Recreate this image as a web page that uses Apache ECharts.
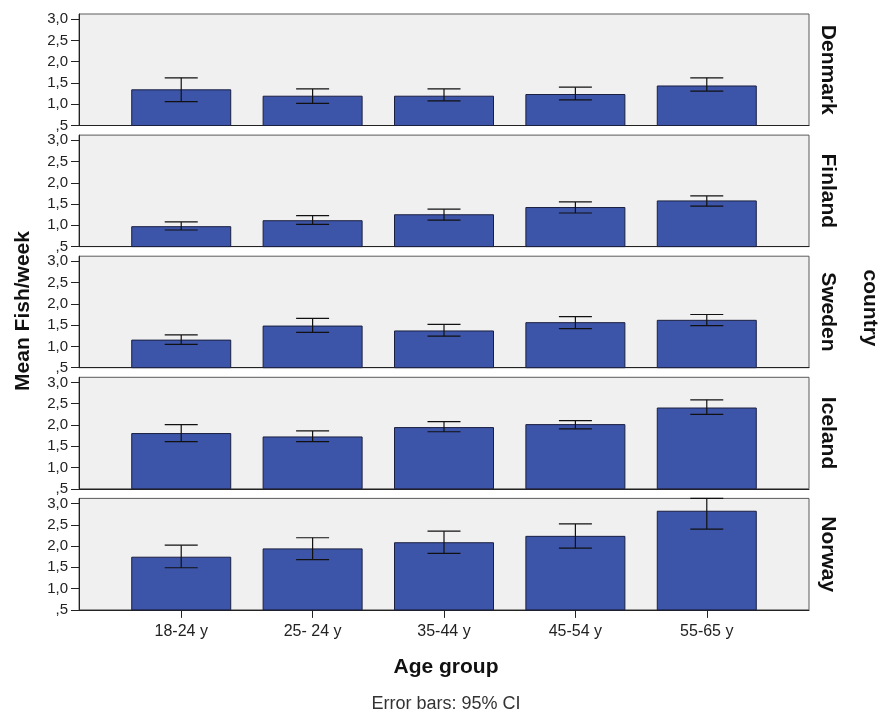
<!DOCTYPE html>
<html>
<head>
<meta charset="utf-8">
<script src="https://cdn.jsdelivr.net/npm/echarts@6/dist/echarts.min.js"></script>
<style>
  html, body { margin: 0; padding: 0; background: #ffffff; }
  #chart { width: 881px; height: 721px; }
</style>
</head>
<body>
<div id="chart"></div>
<script>
// Mean fish meals per week by age group, one panel per country, with 95% CI.
const ageGroups = ['18-24 y', '25- 24 y', '35-44 y', '45-54 y', '55-65 y'];
const countries = ['Denmark', 'Finland', 'Sweden', 'Iceland', 'Norway'];

const meanDenmark = [1.35, 1.20, 1.20, 1.24, 1.44];
const lowDenmark  = [1.06, 1.02, 1.08, 1.10, 1.31];
const highDenmark = [1.62, 1.36, 1.36, 1.40, 1.62];

const meanFinland = [0.98, 1.12, 1.26, 1.43, 1.585];
const lowFinland  = [0.89, 1.02, 1.12, 1.29, 1.45];
const highFinland = [1.08, 1.23, 1.38, 1.55, 1.69];

const meanSweden = [1.16, 1.49, 1.375, 1.57, 1.625];
const lowSweden  = [1.05, 1.33, 1.24, 1.42, 1.49];
const highSweden = [1.27, 1.66, 1.52, 1.70, 1.75];

const meanIceland = [1.81, 1.73, 1.95, 2.02, 2.41];
const lowIceland  = [1.61, 1.61, 1.84, 1.91, 2.25];
const highIceland = [2.01, 1.86, 2.08, 2.10, 2.59];

const meanNorway = [1.75, 1.945, 2.09, 2.24, 2.83];
const lowNorway  = [1.49, 1.68, 1.83, 1.95, 2.40];
const highNorway = [2.02, 2.195, 2.35, 2.52, 3.12];

const yTicks = [0.5, 1.0, 1.5, 2.0, 2.5, 3.0];

const means = [meanDenmark, meanFinland, meanSweden, meanIceland, meanNorway];
const lows  = [lowDenmark, lowFinland, lowSweden, lowIceland, lowNorway];
const highs = [highDenmark, highFinland, highSweden, highIceland, highNorway];

const FONT = "'Liberation Sans', Arial, sans-serif";
const PLOT_LEFT = 79, PLOT_WIDTH = 730, PANEL_H = 111.5, PANEL_STEP = 121.1, FIRST_TOP = 14;
const BAR_COLOR = '#3c55a8';
const AXIS_COLOR = '#222222';

const chart = echarts.init(document.getElementById('chart'), null, { renderer: 'canvas' });

const option = {
  animation: false,
  backgroundColor: '#ffffff',
  grid: [], xAxis: [], yAxis: [], series: [], graphic: []
};

// SPSS-style decimal comma, leading zero dropped (",5")
function fmtY(v) {
  const s = v.toFixed(1).replace('.', ',');
  return s.startsWith('0') ? s.slice(1) : s;
}

countries.forEach((name, i) => {
  const top = FIRST_TOP + i * PANEL_STEP;
  const last = i === countries.length - 1;
  option.grid.push({
    left: PLOT_LEFT, width: PLOT_WIDTH, top: top, height: PANEL_H,
    show: true, backgroundColor: '#f0f0f0', borderColor: '#5a5a5a', borderWidth: 1
  });
  option.xAxis.push({
    gridIndex: i, type: 'value', min: -0.778, max: 4.778,
    splitLine: { show: false },
    axisLine: { show: true, onZero: false, lineStyle: { color: AXIS_COLOR, width: 1 } },
    axisTick: { show: last, customValues: [0, 1, 2, 3, 4], length: 8, lineStyle: { color: AXIS_COLOR } },
    axisLabel: {
      show: last, customValues: [0, 1, 2, 3, 4], margin: 14,
      formatter: v => ageGroups[Math.round(v)],
      fontFamily: FONT, fontSize: 16, color: '#222'
    }
  });
  option.yAxis.push({
    gridIndex: i, type: 'value', min: 0.5, max: 3.12,
    splitLine: { show: false },
    axisLine: { show: true, onZero: false, lineStyle: { color: AXIS_COLOR, width: 1 } },
    axisTick: { show: true, customValues: yTicks, length: 8, lineStyle: { color: AXIS_COLOR } },
    axisLabel: {
      customValues: yTicks, margin: 11, formatter: fmtY,
      fontFamily: FONT, fontSize: 15, color: '#222'
    }
  });
  option.series.push({
    type: 'bar', xAxisIndex: i, yAxisIndex: i, barWidth: 100, silent: true,
    data: means[i].map((v, j) => [j, v]),
    itemStyle: { color: BAR_COLOR, borderColor: '#1b1f40', borderWidth: 1 }
  });
  option.series.push({
    type: 'custom', xAxisIndex: i, yAxisIndex: i, silent: true, z: 5,
    data: lows[i].map((lo, j) => [j, lo, highs[i][j]]),
    encode: { x: 0, y: [1, 2] },
    renderItem: (params, api) => {
      const x = api.value(0);
      const lo = api.coord([x, api.value(1)]);
      const hi = api.coord([x, api.value(2)]);
      const hw = 16.5;
      const st = { stroke: '#111', lineWidth: 1.2 };
      return {
        type: 'group',
        children: [
          { type: 'line', shape: { x1: lo[0], y1: lo[1], x2: hi[0], y2: hi[1] }, style: st },
          { type: 'line', shape: { x1: hi[0] - hw, y1: hi[1], x2: hi[0] + hw, y2: hi[1] }, style: st },
          { type: 'line', shape: { x1: lo[0] - hw, y1: lo[1], x2: lo[0] + hw, y2: lo[1] }, style: st }
        ]
      };
    }
  });
  option.graphic.push({
    type: 'text', x: 828, y: top + PANEL_H / 2, rotation: -Math.PI / 2,
    style: { text: name, font: 'bold 21px ' + FONT, fill: '#111', align: 'center', verticalAlign: 'middle' }
  });
});

option.graphic.push(
  {
    type: 'text', x: 23, y: 311, rotation: Math.PI / 2,
    style: { text: 'Mean Fish/week', font: 'bold 21px ' + FONT, fill: '#111', align: 'center', verticalAlign: 'middle' }
  },
  {
    type: 'text', x: 870, y: 308, rotation: -Math.PI / 2,
    style: { text: 'country', font: 'bold 21px ' + FONT, fill: '#111', align: 'center', verticalAlign: 'middle' }
  },
  {
    type: 'text', x: 446, y: 667,
    style: { text: 'Age group', font: 'bold 21px ' + FONT, fill: '#111', align: 'center', verticalAlign: 'middle' }
  },
  {
    type: 'text', x: 446, y: 704,
    style: { text: 'Error bars: 95% CI', font: '18px ' + FONT, fill: '#333', align: 'center', verticalAlign: 'middle' }
  }
);

chart.setOption(option);
</script>
</body>
</html>
